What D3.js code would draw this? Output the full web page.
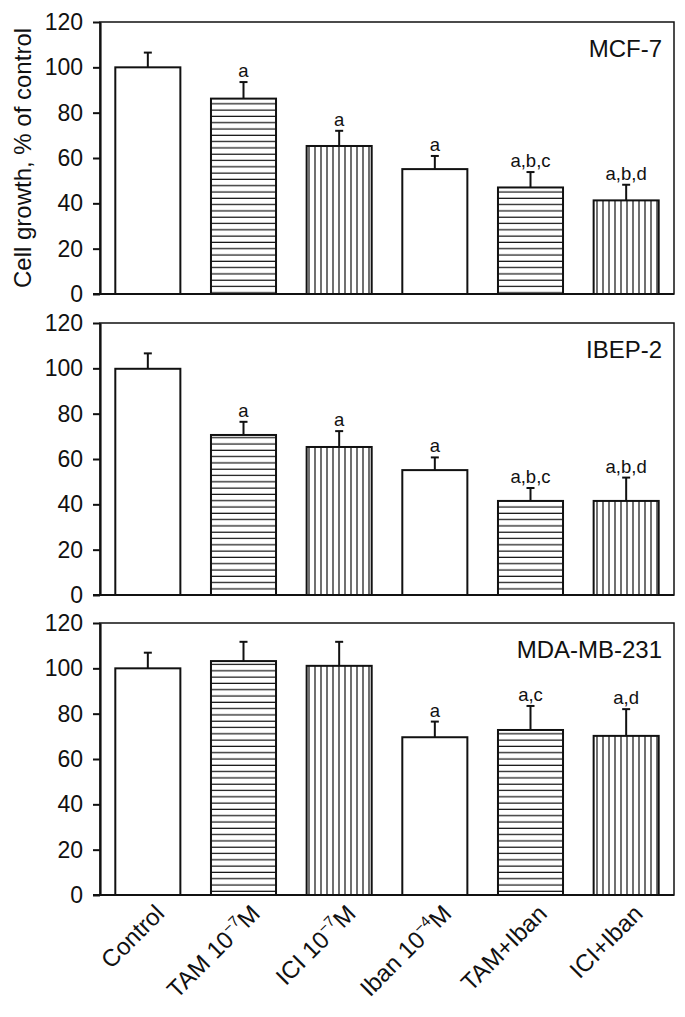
<!DOCTYPE html>
<html><head><meta charset="utf-8">
<script src="https://cdn.jsdelivr.net/npm/d3@7"></script>
<style>html,body{margin:0;padding:0;background:#fff;}svg{display:block;}</style>
</head><body>
<svg id="chart" width="685" height="1017"></svg>
<script>
const catBase = ["Control", "TAM 10", "ICI 10", "Iban 10", "TAM+Iban", "ICI+Iban"];
const catSup  = ["", "\u22127", "\u22127", "\u22124", "", ""];
const catTail = ["", "M", "M", "M", "", ""];
const fills   = ["none", "h", "v", "none", "h", "v"];
const yTicks  = [0, 20, 40, 60, 80, 100, 120];

const panelNames = ["MCF-7", "IBEP-2", "MDA-MB-231"];
const mcfMean  = [100, 86.2, 65.3, 55.1, 47.0, 41.3];
const mcfErr   = [6.5, 7.3, 6.7, 5.8, 6.8, 6.9];
const mcfSig   = ["", "a", "a", "a", "a,b,c", "a,b,d"];
const ibepMean = [99.8, 70.6, 65.3, 55.1, 41.5, 41.5];
const ibepErr  = [6.8, 5.8, 7.0, 5.6, 5.7, 10.3];
const ibepSig  = ["", "a", "a", "a", "a,b,c", "a,b,d"];
const mdaMean  = [100, 103.2, 101.1, 69.6, 72.8, 70.2];
const mdaErr   = [6.9, 8.5, 10.6, 6.9, 10.6, 11.8];
const mdaSig   = ["", "", "", "a", "a,c", "a,d"];

const panels = [
  {name: panelNames[0], mean: mcfMean, err: mcfErr, sig: mcfSig},
  {name: panelNames[1], mean: ibepMean, err: ibepErr, sig: ibepSig},
  {name: panelNames[2], mean: mdaMean, err: mdaErr, sig: mdaSig}
];

const svg = d3.select("#chart");
const FONT = "Arial, 'Liberation Sans', Helvetica, sans-serif";
const INK = "#111";

const defs = svg.append("defs");
const ph = defs.append("pattern").attr("id", "pat-h").attr("patternUnits", "userSpaceOnUse")
  .attr("width", 10).attr("height", 6.3);
ph.append("rect").attr("width", 10).attr("height", 6.3).attr("fill", "#fff");
ph.append("line").attr("x1", 0).attr("x2", 10).attr("y1", 3).attr("y2", 3)
  .attr("stroke", INK).attr("stroke-width", 1.2);
const pv = defs.append("pattern").attr("id", "pat-v").attr("patternUnits", "userSpaceOnUse")
  .attr("width", 6).attr("height", 10);
pv.append("rect").attr("width", 6).attr("height", 10).attr("fill", "#fff");
pv.append("line").attr("x1", 3).attr("x2", 3).attr("y1", 0).attr("y2", 10)
  .attr("stroke", INK).attr("stroke-width", 1.2);

const left = 100, right = 674;
const panelTops = [22, 323, 623];
const panelH = 272;

const x = d3.scaleBand().domain(d3.range(catBase.length)).range([left, right])
  .paddingInner(0.32).paddingOuter(0.16);

panels.forEach((p, pi) => {
  const top = panelTops[pi];
  const y = d3.scaleLinear().domain([0, 120]).range([top + panelH, top]);
  const g = svg.append("g");

  g.append("rect").attr("x", left).attr("y", top).attr("width", right - left).attr("height", panelH)
    .attr("fill", "none").attr("stroke", INK).attr("stroke-width", 1.5);

  p.mean.forEach((m, i) => {
    const fillUrl = fills[i] === "h" ? "url(#pat-h)" : fills[i] === "v" ? "url(#pat-v)" : "#fff";
    g.append("rect").attr("x", x(i)).attr("y", y(m)).attr("width", x.bandwidth())
      .attr("height", y(0) - y(m)).attr("fill", fillUrl).attr("stroke", INK).attr("stroke-width", 2);
    const cx = x(i) + x.bandwidth() / 2;
    const ye = y(m + p.err[i]);
    g.append("line").attr("x1", cx).attr("x2", cx).attr("y1", y(m)).attr("y2", ye)
      .attr("stroke", INK).attr("stroke-width", 2);
    g.append("line").attr("x1", cx - 4).attr("x2", cx + 4).attr("y1", ye).attr("y2", ye)
      .attr("stroke", INK).attr("stroke-width", 2);
    if (p.sig[i]) {
      g.append("text").attr("x", cx).attr("y", ye - 5).attr("text-anchor", "middle")
        .attr("font-family", FONT).attr("font-size", 18.5).attr("fill", INK).text(p.sig[i]);
    }
  });

  const ax = g.append("g").attr("transform", `translate(${left},0)`)
    .call(d3.axisLeft(y).tickValues(yTicks).tickSize(7).tickPadding(10).tickSizeOuter(0));
  ax.select(".domain").attr("stroke", INK).attr("stroke-width", 2.2);
  ax.selectAll(".tick line").attr("stroke", INK).attr("stroke-width", 2);
  ax.selectAll(".tick text").attr("font-family", FONT).attr("font-size", 23).attr("fill", INK);

  g.append("line").attr("x1", left - 7).attr("x2", right).attr("y1", y(0)).attr("y2", y(0))
    .attr("stroke", INK).attr("stroke-width", 2.2);

  g.append("text").attr("x", 662).attr("y", top + 35).attr("text-anchor", "end")
    .attr("font-family", FONT).attr("font-size", 24).attr("fill", INK).text(p.name);

  if (pi === 2) {
    catBase.forEach((c, i) => {
      const cx = x(i) + x.bandwidth() / 2;
      const t = g.append("text")
        .attr("transform", `translate(${cx + 18},${y(0) + 20}) rotate(-45)`)
        .attr("text-anchor", "end").attr("font-family", FONT).attr("font-size", 24).attr("fill", INK);
      t.append("tspan").text(c);
      if (catSup[i]) {
        t.append("tspan").attr("font-size", 15).attr("dy", -10).text(catSup[i]);
        t.append("tspan").attr("dy", 10).text(catTail[i]);
      }
    });
  }
});

svg.append("text").attr("transform", `translate(31,${22 + 136}) rotate(-90)`)
  .attr("text-anchor", "middle").attr("font-family", FONT).attr("font-size", 24).attr("fill", INK)
  .text("Cell growth, % of control");
</script>
</body></html>
